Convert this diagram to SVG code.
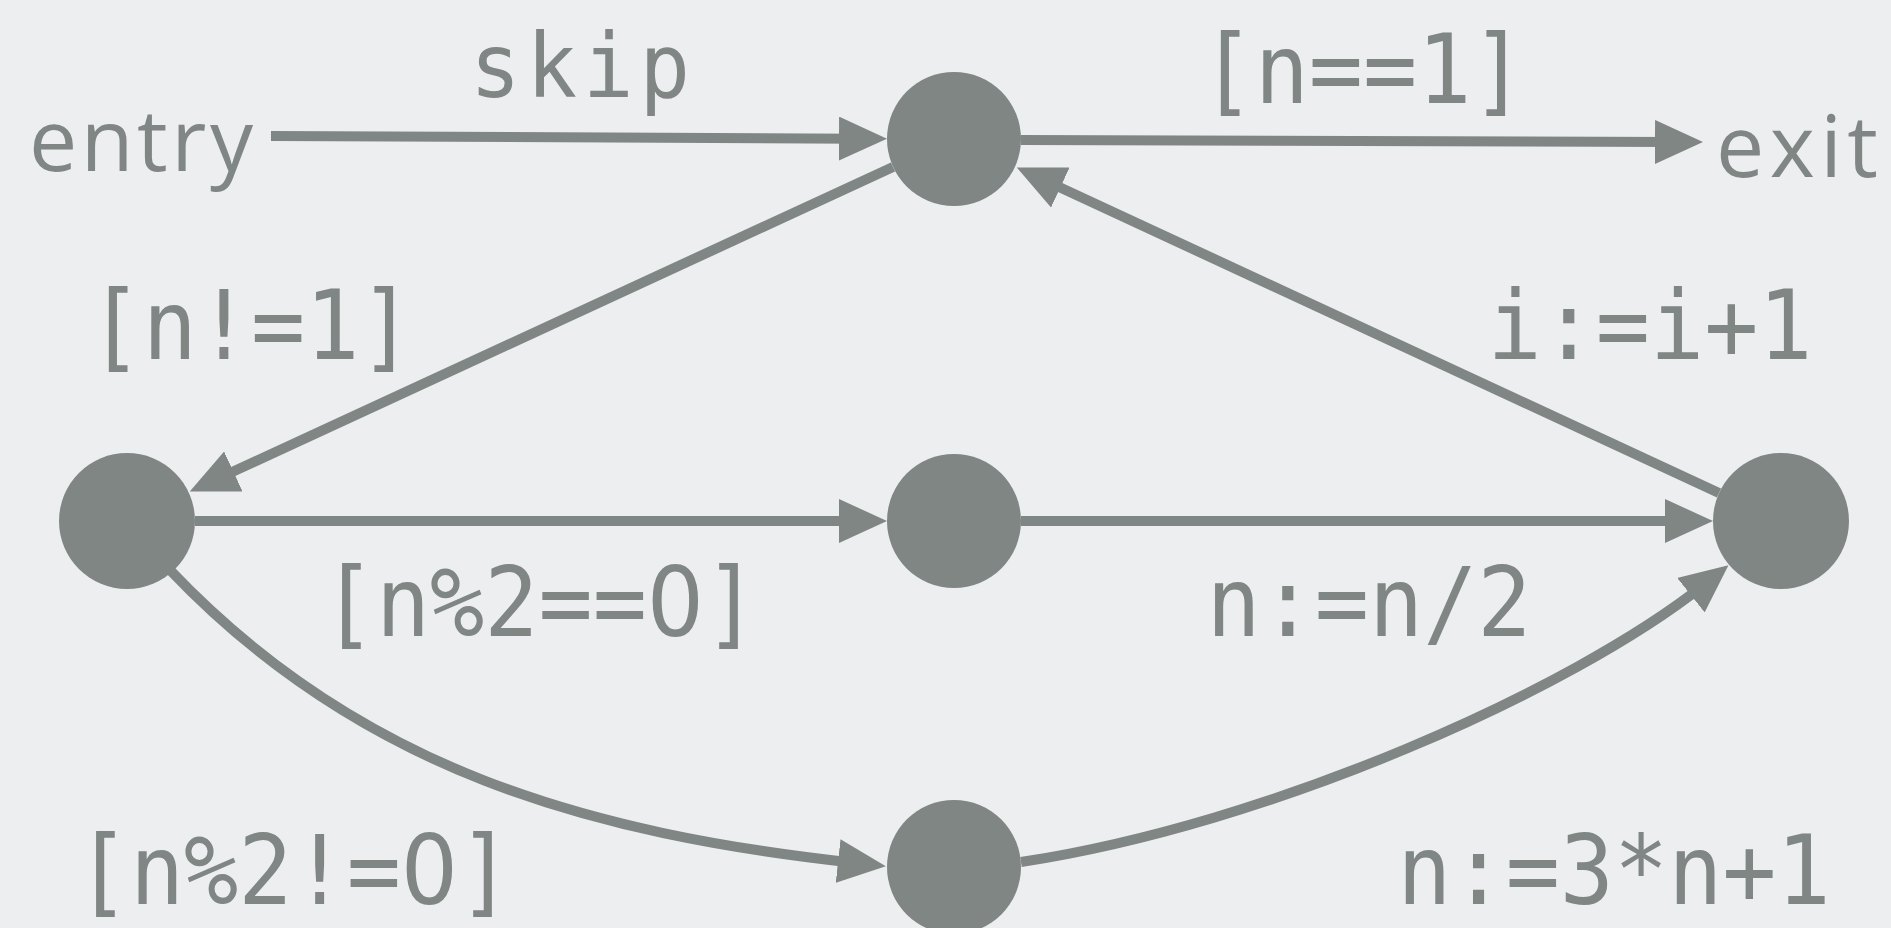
<svg xmlns="http://www.w3.org/2000/svg" width="1891" height="928" viewBox="0 0 1891 928">
  <style>
    .bg { fill: #eceef0; }
    .node { fill: #808684; }
    .edge { fill: none; stroke: #808684; stroke-width: 10; marker-end: url(#arrow); }
    .lbl { font-family: "DejaVu Sans Mono", "Liberation Mono", monospace; font-size: 90px; fill: #808684; text-anchor: middle; }
    .z { font-family: "DejaVu Sans", "Liberation Sans", sans-serif; }
    .term { font-family: "Open Sans", "Noto Sans", "Liberation Sans", sans-serif; font-size: 86px; fill: #808684; }
  </style>
  <defs>
    <marker id="arrow" viewBox="0 0 48 44" markerWidth="48" markerHeight="44" markerUnits="userSpaceOnUse" refX="18" refY="22" orient="auto">
      <path d="M0,0 L48,22 L0,44 z" fill="#808684"/>
    </marker>
  </defs>
  <rect class="bg" x="0" y="0" width="1891" height="928"/>

  <g id="connectors">
    <path id="e-entry-top" class="edge" d="M271,136 L857,138.7"/>
    <path id="e-top-exit" class="edge" d="M1021,140 L1673,142"/>
    <path id="e-top-left" class="edge" d="M893,167 L217,479"/>
    <path id="e-right-top" class="edge" d="M1719,493 L1044,180"/>
    <path id="e-left-mid" class="edge" d="M195,521 L857,521"/>
    <path id="e-mid-right" class="edge" d="M1021,521 L1683,521"/>
    <path id="e-left-bottom" class="edge" d="M170,570 C360,770 590,834 856,863"/>
    <path id="e-bottom-right" class="edge" d="M1021,862 C1271,824 1572,690 1705,584"/>
  </g>

  <g id="node-top"><circle class="node" cx="954" cy="139" r="67"/></g>
  <g id="node-left"><circle class="node" cx="127" cy="521" r="68"/></g>
  <g id="node-mid"><circle class="node" cx="954" cy="521" r="67"/></g>
  <g id="node-right"><circle class="node" cx="1781" cy="521" r="68"/></g>
  <g id="node-bottom"><circle class="node" cx="954" cy="867" r="67"/></g>

  <g id="node-entry"><text class="term" x="29" y="171" textLength="224">entry</text></g>
  <g id="node-exit"><text class="term" x="1716" y="177" textLength="162">exit</text></g>

  <g id="labels">
    <text class="lbl" transform="translate(583,97) scale(1,1.07)" style="font-size:84px" letter-spacing="6">skip</text>
    <text class="lbl" transform="translate(1363,103) scale(1,1.07)">[n==1]</text>
    <text class="lbl" transform="translate(251,359) scale(1,1.07)">[n!=1]</text>
    <text class="lbl" transform="translate(1650,359) scale(1,1.07)">i:=i+1</text>
    <text class="lbl" transform="translate(540,636) scale(1,1.07)">[n%2==<tspan class="z">0</tspan>]</text>
    <text class="lbl" transform="translate(1369,636) scale(1,1.07)">n:=n/2</text>
    <text class="lbl" transform="translate(294,904) scale(1,1.07)">[n%2!=<tspan class="z">0</tspan>]</text>
    <text class="lbl" transform="translate(1614,904) scale(1,1.07)">n:=3*n+1</text>
  </g>
</svg>
